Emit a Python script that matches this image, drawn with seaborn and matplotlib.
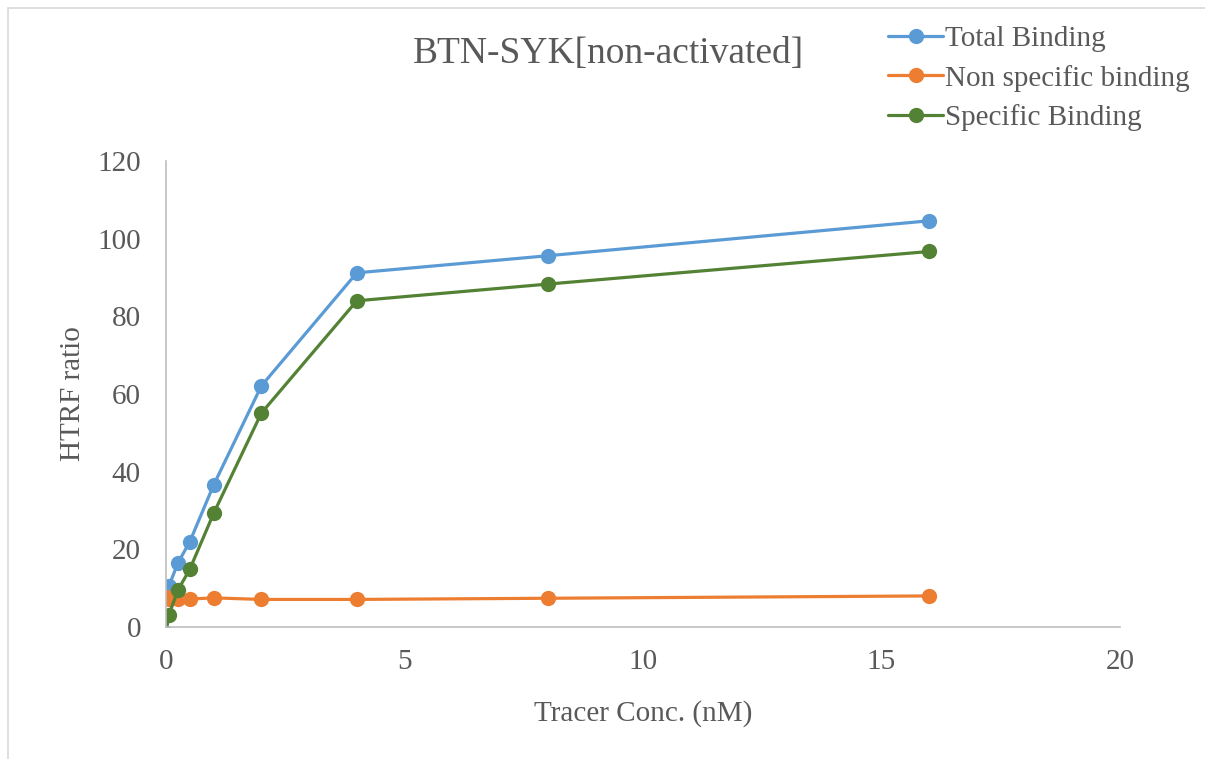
import pandas as pd
import numpy as np
import matplotlib.pyplot as plt
import seaborn as sns
from matplotlib.patches import Rectangle

# Data
conc = [0, 0.0625, 0.25, 0.5, 1, 2, 4, 8, 16]
total_binding = [7.6, 10.6, 16.5, 22.0, 36.6, 62.1, 91.2, 95.6, 104.6]
nonspecific_binding = [7.6, 7.3, 7.2, 7.2, 7.5, 7.1, 7.1, 7.4, 8.0]
specific_binding = [-1.5, 3.2, 9.5, 14.9, 29.3, 55.1, 84.0, 88.3, 96.7]

series_names = ['Total Binding', 'Non specific binding', 'Specific Binding']
colors = ['#5B9BD5', '#ED7D31', '#548235']

df = pd.DataFrame({
    'conc': conc * 3,
    'value': total_binding + nonspecific_binding + specific_binding,
    'series': [series_names[0]] * len(conc) + [series_names[1]] * len(conc) + [series_names[2]] * len(conc),
})

sns.set_style('white')
plt.rcParams['font.family'] = ['Liberation Serif', 'DejaVu Serif']
text_color = '#595959'
fs = 21

fig = plt.figure(figsize=(12.05, 7.59), dpi=100)
ax = fig.add_axes([166 / 1205, 1 - 627 / 759, (1120 - 166) / 1205, (627 - 161) / 759])

sns.lineplot(data=df, x='conc', y='value', hue='series', hue_order=series_names,
             palette=colors, marker='o', markersize=11, markeredgewidth=0,
             linewidth=2.3, ax=ax, legend=False, sort=False)

ax.set_xlim(0, 20)
ax.set_ylim(0, 120)
ax.set_xticks([0, 5, 10, 15, 20])
ax.set_yticks(np.arange(0, 121, 20))
ax.tick_params(axis='both', length=0, labelsize=fs, labelcolor=text_color)
ax.tick_params(axis='y', pad=18)
ax.tick_params(axis='x', pad=16)

for side in ['top', 'right']:
    ax.spines[side].set_visible(False)
for side in ['left', 'bottom']:
    ax.spines[side].set_color('#BFBFBF')
    ax.spines[side].set_linewidth(1.2)

ax.set_xlabel('Tracer Conc. (nM)', fontsize=fs, color=text_color, labelpad=18)
ax.set_ylabel('HTRF ratio', fontsize=fs, color=text_color, labelpad=8)

fig.text(608 / 1205, 1 - 54 / 759, 'BTN-SYK[non-activated]', fontsize=27,
         color=text_color, ha='center', va='center')

# Legend in the top right corner
handles = [plt.Line2D([], [], color=c, linewidth=2.3, marker='o', markersize=11,
                      markeredgewidth=0) for c in colors]
fig.legend(handles, series_names, loc='upper left', bbox_to_anchor=(888 / 1205, 1 - 26 / 759),
           frameon=False, fontsize=fs, labelcolor=text_color, handlelength=1.9,
           handletextpad=0.05, labelspacing=0.42, borderaxespad=0, borderpad=0)

# Thin chart border
fig.patches.append(Rectangle((8 / 1205, -0.1), 1.5, 1.1 - 8 / 759, transform=fig.transFigure,
                             fill=False, edgecolor='#D9D9D9', linewidth=1.2))

fig.savefig('out.png', dpi=100)
